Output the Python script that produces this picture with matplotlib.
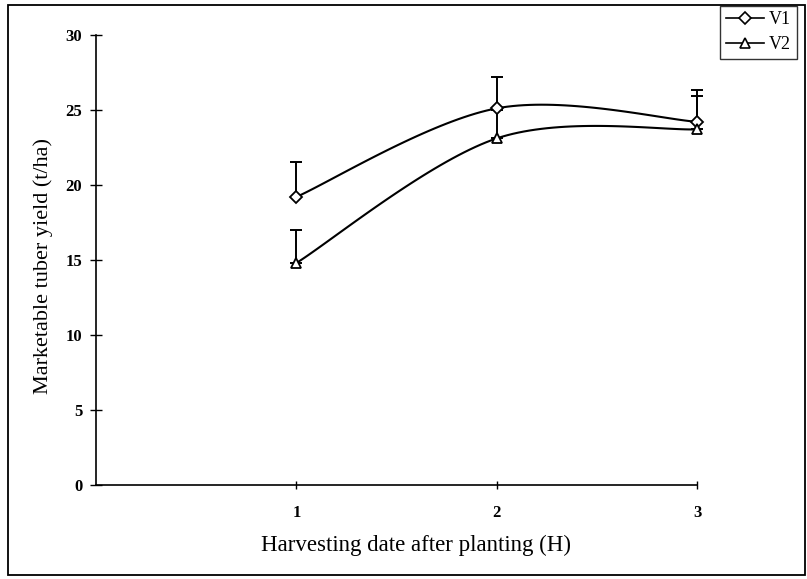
import numpy as np
import matplotlib
matplotlib.use('Agg')
import matplotlib.pyplot as plt
from matplotlib.patches import Rectangle

matplotlib.rcParams['font.family'] = ['Liberation Serif', 'DejaVu Serif']

# harvest dates and yields (t/ha)
harvest = [1, 2, 3]
v1_yield = [19.2, 25.1, 24.2]
v2_yield = [14.8, 23.1, 23.7]
# upper error bars only
v1_err = [2.3, 2.1, 2.1]
v2_err = [2.2, 1.9, 2.2]
series_labels = ['V1', 'V2']
markers = ['D', '^']


def smooth(xs, ys, n=40):
    # Excel-style smoothed line (Catmull-Rom as cubic Bezier)
    p = np.column_stack([xs, ys]).astype(float)
    ext = np.vstack([p[0], p, p[-1]])
    out = []
    t = np.linspace(0, 1, n)[:, None]
    for i in range(len(p) - 1):
        p0, p1, p2, p3 = ext[i], ext[i + 1], ext[i + 2], ext[i + 3]
        c1 = p1 + (p2 - p0) / 6
        c2 = p2 - (p3 - p1) / 6
        seg = ((1 - t) ** 3) * p1 + 3 * ((1 - t) ** 2) * t * c1 + 3 * (1 - t) * t ** 2 * c2 + t ** 3 * p2
        out.append(seg)
    out = np.vstack(out)
    return out[:, 0], out[:, 1]


fig = plt.figure(figsize=(8.07, 5.79), dpi=100)
ax = fig.add_axes([0.119, 0.162, 0.745, 0.778])

for vals, errs, mk, lab in zip([v1_yield, v2_yield], [v1_err, v2_err], markers, series_labels):
    ms = 7 if mk == '^' else 6
    sx, sy = smooth(harvest, vals)
    ax.plot(sx, sy, color='black', lw=1.5, zorder=2, clip_on=False)
    ax.errorbar(harvest, vals, yerr=[np.zeros(len(errs)), errs], fmt='none', ecolor='black',
                elinewidth=1.4, capsize=4.5, capthick=1.4, zorder=2, clip_on=False)
    ax.plot(harvest, vals, linestyle='none', marker=mk, ms=ms,
            mfc='white', mec='black', mew=1.3, zorder=3, clip_on=False)
    # legend handle
    ax.plot([], [], color='black', lw=1.2, marker=mk, ms=ms,
            mfc='white', mec='black', mew=1.2, label=lab)

ax.set_xlim(0, 3)
ax.set_ylim(0, 30)
ax.set_xticks(harvest)
ax.set_yticks(np.arange(0, 31, 5))
ax.spines['top'].set_visible(False)
ax.spines['right'].set_visible(False)
ax.spines['left'].set_linewidth(1.2)
ax.spines['bottom'].set_linewidth(1.2)
ax.tick_params(axis='y', direction='inout', length=8, width=1, labelsize=12, pad=6)
ax.tick_params(axis='x', direction='inout', length=6, width=1, labelsize=12, pad=11)
for lbl in ax.get_xticklabels() + ax.get_yticklabels():
    lbl.set_fontweight('bold')

fig.text(0.054, 0.54, 'Marketable tuber yield (t/ha)', rotation=90, ha='center', va='center', fontsize=16)
fig.text(0.515, 0.058, 'Harvesting date after planting (H)', ha='center', va='center', fontsize=16.5)

leg = fig.legend(loc='upper right', bbox_to_anchor=(0.987, 0.99), frameon=True, fancybox=False,
                 edgecolor='black', fontsize=13, handlelength=2.1, handletextpad=0.3,
                 borderpad=0.3, labelspacing=0.45, borderaxespad=0)
leg.get_frame().set_linewidth(1.0)

# outer frame around the whole chart
fig.patches.append(Rectangle((0.01, 0.007), 0.987, 0.984, transform=fig.transFigure,
                             fill=False, edgecolor='black', lw=1.3))

fig.savefig('out.png', dpi=100)
